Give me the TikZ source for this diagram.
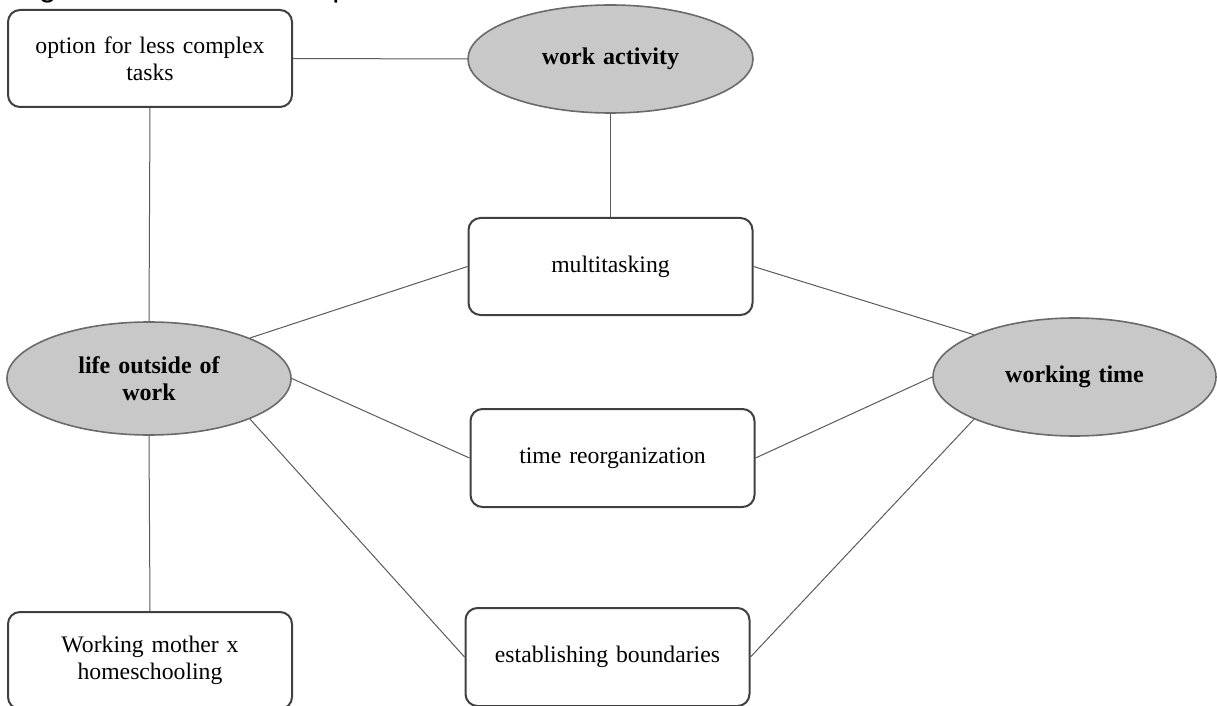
\documentclass[tikz,border=0pt]{standalone}
\usepackage{fontspec}
\setmainfont{Liberation Serif}
\newfontfamily\titlefont{Liberation Sans}
\usetikzlibrary{shapes.geometric}
\definecolor{boxline}{HTML}{404040}
\definecolor{ovalfill}{HTML}{C8C8C8}
\definecolor{ovalline}{HTML}{6A6A6A}
\definecolor{linkline}{HTML}{5A5A5A}
\begin{document}
\begin{tikzpicture}[x=0.5pt,y=-0.5pt,
  topic/.style={draw=boxline, line width=1pt, rounded corners=6pt, fill=white,
    minimum width=142pt, minimum height=48.5pt, inner sep=0pt,
    align=center, text width=136pt, font=\fontsize{11.85}{13.6}\selectfont},
  theme/.style={ellipse, draw=ovalline, line width=0.8pt, fill=ovalfill,
    minimum width=142pt, minimum height=56pt, inner sep=0pt,
    align=center, text width=100pt, font=\bfseries\fontsize{12}{13.6}\selectfont},
  link/.style={draw=linkline, line width=0.5pt}]
\useasboundingbox (0,0) rectangle (1217,706);
\begin{scope}
  \clip (0,0) rectangle (1217,706);
  % caption above the map, cut off at the top edge
  \node[anchor=base west, inner sep=0pt, font=\titlefont\fontsize{15.85}{18}\selectfont]
    (caption) at (12,-3) {Figure 1. Thematic map};

  % topics (rounded boxes) and themes (grey ovals)
  \node[topic] (opt) at (150,58.5) {option for less complex\\tasks};
  \node[theme, minimum width=142.5pt, minimum height=54pt] (wa) at (610.5,59) {work activity};
  \node[topic] (multi) at (610.5,266.5) {multitasking};
  \node[theme, minimum height=56.5pt] (life) at (149,378.5) {life outside of\\work};
  \node[theme, minimum width=141.5pt, minimum height=59pt] (wt) at (1074.5,377) {working time};
  \node[topic, minimum height=49pt] (treorg) at (612.5,458) {time reorganization};
  \node[topic, minimum height=49pt] (estab) at (607.5,657) {establishing boundaries};
  \node[topic] (wm) at (150,660.5) {Working mother x\\homeschooling};

  % connectors
  \path[link] (opt.east) -- (wa.west);
  \path[link] (opt.south) -- (life.north);
  \path[link] (life.south) -- (wm.north);
  \path[link] (wa.south) -- (multi.north);
  \path[link] (life.north east) -- (multi.west);
  \path[link] (life.east) -- (treorg.west);
  \path[link] (life.south east) -- (estab.west);
  \path[link] (multi.east) -- (wt.north west);
  \path[link] (treorg.east) -- (wt.west);
  \path[link] (estab.east) -- (wt.south west);
\end{scope}
\end{tikzpicture}
\end{document}
